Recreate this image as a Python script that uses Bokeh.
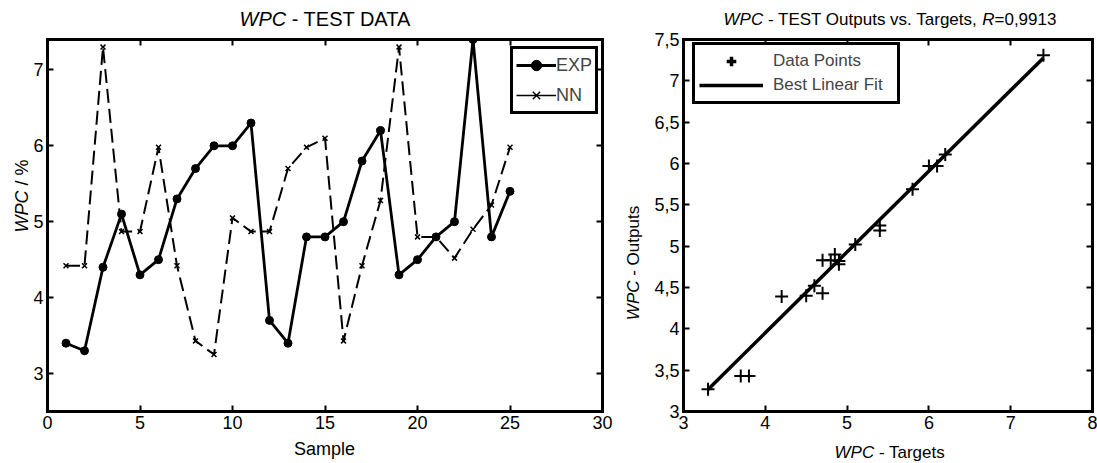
from math import pi
import numpy as np
from bokeh.plotting import figure
from bokeh.models import (Range1d, FixedTicker, LinearAxis, Label, Legend, LegendItem,
                          CustomJSTickFormatter)
from bokeh.layouts import row, column
from bokeh.embed import file_html
from bokeh.resources import INLINE

# ---------------- data ----------------
sample = list(range(1, 26))
exp_vals = [3.4, 3.3, 4.4, 5.1, 4.3, 4.5, 5.3, 5.7, 6.0, 6.0, 6.3, 3.7, 3.4,
            4.8, 4.8, 5.0, 5.8, 6.2, 4.3, 4.5, 4.8, 5.0, 7.4, 4.8, 5.4]
nn_vals = [4.42, 4.42, 7.3, 4.87, 4.87, 5.98, 4.42, 3.43, 3.25, 5.05, 4.87, 4.87, 5.7,
           5.98, 6.1, 3.43, 4.42, 5.28, 7.3, 4.8, 4.8, 4.52, 4.9, 5.22, 5.98]

targets = [3.3, 3.7, 3.8, 4.2, 4.5, 4.6, 4.7, 4.7, 4.8, 4.85, 4.9, 4.9, 5.1,
           5.4, 5.4, 5.8, 6.0, 6.1, 6.2, 7.4]
outputs = [3.27, 3.43, 3.43, 4.39, 4.40, 4.52, 4.43, 4.83, 4.83, 4.90, 4.82, 4.78, 5.02,
           5.19, 5.25, 5.69, 5.97, 5.97, 6.11, 7.31]
fit_slope = 0.978
fit_intercept = 0.04

left_xticks = [0, 5, 10, 15, 20, 25, 30]
left_yticks = [3, 4, 5, 6, 7]
right_xticks = [3, 4, 5, 6, 7, 8]
right_yticks = [3, 3.5, 4, 4.5, 5, 5.5, 6, 6.5, 7, 7.5]

FONT = "Liberation Sans"
SP = 0.278  # width of a space, in em

# page geometry (px, page origin at top-left)
PAGE_W = 1097
T_H = 28                      # title strip height
L1, R1 = 47, 602              # left frame
L2, R2 = 683, 1092            # right frame
TOP, BOT = 39, 411            # frames top / bottom
MID_BOT = 437                 # bottom of the plot row
B_H = 25                      # bottom label strip
Y1_W = 30                     # strip for left y label
P1_LEFT = Y1_W
P1_RIGHT = 620
Y2_RIGHT = 645
FH = BOT - TOP


def style_axis(ax, ticks, labels=True, fmt=None, size="18px"):
    ax.ticker = FixedTicker(ticks=ticks)
    ax.axis_line_width = 3
    ax.axis_line_color = "black"
    ax.axis_line_cap = "square"
    ax.major_tick_in = 6
    ax.major_tick_out = 0
    ax.major_tick_line_width = 2
    ax.major_tick_line_color = "black"
    ax.minor_tick_line_color = None
    ax.major_label_text_font = FONT
    ax.major_label_text_font_size = size
    ax.major_label_text_color = "black"
    ax.major_label_standoff = 4
    if not labels:
        ax.formatter = CustomJSTickFormatter(code="return ''")
        ax.major_label_standoff = 0
        ax.major_label_text_font_size = "0px"
    elif fmt is not None:
        ax.formatter = fmt


def make_fig(xr, yr, bl, br, fw):
    p = figure(frame_width=fw, frame_height=FH, min_border_left=bl, min_border_right=br,
               min_border_top=TOP - T_H, min_border_bottom=MID_BOT - BOT,
               x_range=xr, y_range=yr, output_backend="svg", toolbar_location=None)
    p.xgrid.grid_line_color = None
    p.ygrid.grid_line_color = None
    p.outline_line_color = None
    p.background_fill_color = "white"
    p.border_fill_color = "white"
    return p


def strip(w, h):
    f = figure(width=w, height=h, x_axis_type=None, y_axis_type=None, min_border=0,
               x_range=Range1d(0, 1), y_range=Range1d(0, 1),
               output_backend="svg", toolbar_location=None)
    f.outline_line_color = None
    f.xgrid.grid_line_color = None
    f.ygrid.grid_line_color = None
    f.background_fill_color = "white"
    f.border_fill_color = "white"
    return f


def lab(f, left, bottom, text, x, y, size, italic=False, align="left", angle=0.0):
    """x, y: page position; y is the text's vertical centre line."""
    f.add_layout(Label(x=x - left, y=bottom - y, x_units="screen", y_units="screen",
                       text=text, text_font=FONT, text_font_size=f"{size}px",
                       text_font_style="italic" if italic else "normal",
                       text_align=align, text_baseline="middle", angle=angle,
                       text_color="black"))


def mid(baseline, size):
    return baseline - 0.35 * size


# ---------------- left figure ----------------
p1 = make_fig(Range1d(0, 30), Range1d(2.5, 7.4), L1 - P1_LEFT, P1_RIGHT - R1, R1 - L1)
p1.extra_x_ranges = {"legend_only": Range1d(1000, 1001)}
style_axis(p1.xaxis[0], left_xticks)
style_axis(p1.yaxis[0], left_yticks)
top1 = LinearAxis(); style_axis(top1, left_xticks, labels=False); p1.add_layout(top1, "above")
rgt1 = LinearAxis(); style_axis(rgt1, left_yticks, labels=False); p1.add_layout(rgt1, "right")

l_exp = p1.line(sample, exp_vals, line_color="black", line_width=2.8)
s_exp = p1.scatter(sample, exp_vals, marker="circle", size=8, color="black")
l_nn = p1.line(sample, nn_vals, line_color="black", line_width=2, line_dash="14 6")
s_nn = p1.scatter(sample, nn_vals, marker="x", size=7, line_color="black", line_width=1.5)
proxy_nn = p1.line(sample, nn_vals, line_color="black", line_width=1.5,
                   x_range_name="legend_only")

leg1 = Legend(items=[LegendItem(label="EXP", renderers=[l_exp, s_exp]),
                     LegendItem(label="NN", renderers=[proxy_nn, s_nn])],
              location=(510 - L1, FH - (50 - TOP) - 64), margin=0, padding=3, spacing=4,
              glyph_width=40, glyph_height=26, label_height=26, label_standoff=0,
              label_text_font=FONT, label_text_font_size="18px",
              border_line_color="black", border_line_alpha=1.0, border_line_width=3,
              background_fill_alpha=1.0)
p1.add_layout(leg1)

# ---------------- right figure ----------------
comma = CustomJSTickFormatter(code="return tick.toString().replace('.', ',')")
p2 = make_fig(Range1d(3, 8), Range1d(3, 7.5), L2 - Y2_RIGHT, PAGE_W - R2, R2 - L2)
p2.extra_x_ranges = {"legend_only": Range1d(1000, 1001)}
style_axis(p2.xaxis[0], right_xticks)
style_axis(p2.yaxis[0], right_yticks, fmt=comma)
top2 = LinearAxis(); style_axis(top2, right_xticks, labels=False); p2.add_layout(top2, "above")
rgt2 = LinearAxis(); style_axis(rgt2, right_yticks, labels=False); p2.add_layout(rgt2, "right")

s_pts = p2.scatter(targets, outputs, marker="cross", size=13, line_color="black", line_width=2)
fx = np.array([min(targets), max(targets)])
l_fit = p2.line(fx, fit_slope * fx + fit_intercept, line_color="black", line_width=3.5)
proxy_pts = p2.scatter(targets, outputs, marker="cross", size=13, line_color="black",
                       line_width=3.5, x_range_name="legend_only")

leg2 = Legend(items=[LegendItem(label="Data Points", renderers=[proxy_pts]),
                     LegendItem(label="Best Linear Fit", renderers=[l_fit])],
              location=(692 - L2, FH - (48 - TOP) - 56), margin=0, padding=4, spacing=0,
              glyph_width=64, glyph_height=24, label_height=24, label_standoff=10,
              label_width=120, label_text_font=FONT, label_text_font_size="17px",
              border_line_color="black", border_line_alpha=1.0, border_line_width=3,
              background_fill_alpha=1.0)
p2.add_layout(leg2)

# ---------------- text strips ----------------
TB = 25  # title baseline
tfig = strip(PAGE_W, T_H)
split = 239 + 46.7
lab(tfig, 0, T_H, "WPC", split, mid(TB, 20), 20, italic=True, align="right")
lab(tfig, 0, T_H, "- TEST DATA", split + SP * 20, mid(TB, 20), 20, align="left")
x0 = 723
s1 = x0 + 39.7
s2 = s1 + 219.0
s3 = s2 + 12.3
lab(tfig, 0, T_H, "WPC", s1, mid(TB, 17), 17, italic=True, align="right")
lab(tfig, 0, T_H, "- TEST Outputs vs. Targets,", s1 + SP * 17, mid(TB, 17), 17, align="left")
lab(tfig, 0, T_H, "R", s2, mid(TB, 17), 17, italic=True, align="left")
lab(tfig, 0, T_H, "=0,9913", s3, mid(TB, 17), 17, align="left")

# y-label strips: their frames get aligned with the plot frames (bottom at BOT)
mid_h = MID_BOT - T_H
y1 = strip(Y1_W, mid_h)
lab(y1, 0, BOT, "WPC", 21, 190, 18, italic=True, align="right", angle=pi / 2)
lab(y1, 0, BOT, "/ %", 21, 190 - SP * 18, 18, align="left", angle=pi / 2)

y2 = strip(Y2_RIGHT - P1_RIGHT, mid_h)
lab(y2, P1_RIGHT, BOT, "WPC", 633, 280, 17, italic=True, align="right", angle=pi / 2)
lab(y2, P1_RIGHT, BOT, "- Outputs", 633, 280 - SP * 17, 17, align="left", angle=pi / 2)

bfig = strip(PAGE_W, B_H)
BB = MID_BOT + B_H
lab(bfig, 0, BB, "Sample", 324, mid(455, 18), 18, align="center")
sx = 834 + 39.7
lab(bfig, 0, BB, "WPC", sx, mid(457.5, 17), 17, italic=True, align="right")
lab(bfig, 0, BB, "- Targets", sx + SP * 17, mid(457.5, 17), 17, align="left")

layout = column(tfig, row(y1, p1, y2, p2, spacing=0), bfig, spacing=0)
open("out.html", "w").write(file_html(layout, INLINE))
